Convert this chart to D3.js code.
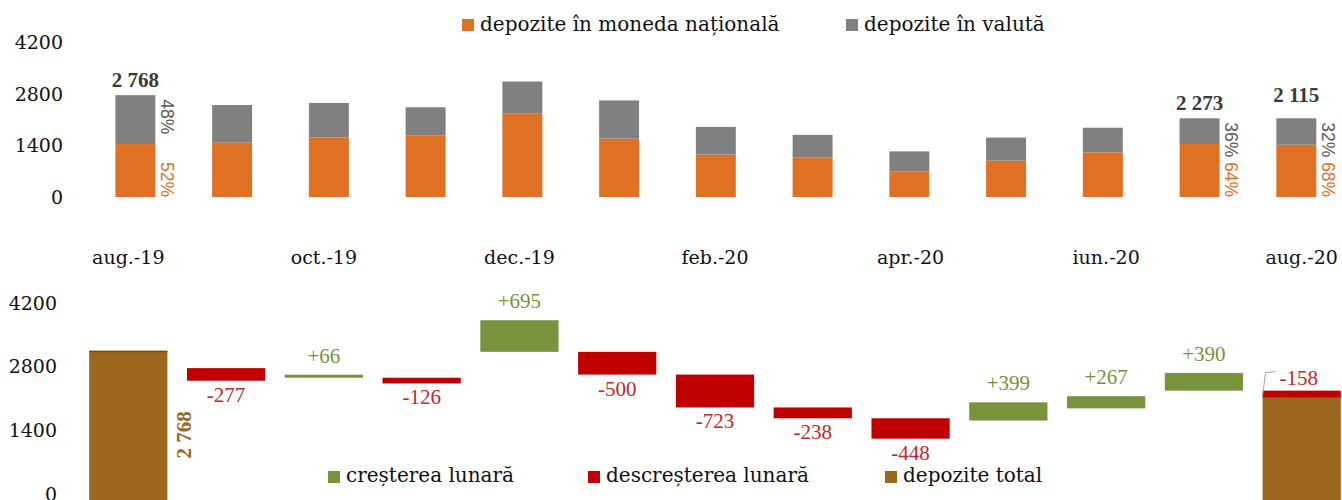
<!DOCTYPE html>
<html>
<head>
<meta charset="utf-8">
<script src="https://cdn.jsdelivr.net/npm/d3@7"></script>
<style>
    body { margin: 0; background: #ffffff; }
    svg { display: block; }
    .axis text { font-family: "DejaVu Serif", serif; font-size: 19px; fill: #111111; }
    .legend text { font-family: "DejaVu Serif", serif; font-size: 20px; fill: #111111; }
</style>
</head>
<body>
<div id="chart"></div>
<script>
// months shown in both panels
const months = ['aug.-19', 'sep.-19', 'oct.-19', 'nov.-19', 'dec.-19', 'ian.-20', 'feb.-20',
    'mar.-20', 'apr.-20', 'mai.-20', 'iun.-20', 'iul.-20', 'aug.-20'];
const monthTicks = ['aug.-19', 'oct.-19', 'dec.-19', 'feb.-20', 'apr.-20', 'iun.-20', 'aug.-20'];
const yTicks = [0, 1400, 2800, 4200];

// top panel: stacked deposits
const nationalDeposits = [1439, 1476, 1622, 1667, 2265, 1586, 1151, 1069, 689, 988, 1214, 1441, 1420];
const foreignDeposits = [1329, 1024, 935, 773, 875, 1040, 754, 621, 551, 628, 669, 699, 720];
const labeledMonths = ['aug.-19', 'iul.-20', 'aug.-20'];
const labeledTotals = ['2 768', '2 273', '2 115'];
const foreignShare = ['48%', '36%', '32%'];
const nationalShare = ['52%', '64%', '68%'];

// bottom panel: waterfall
const startTotal = 2768;
const startBarDrawn = 3150;          // the first column is drawn taller than its label
const monthlyChange = [-277, 66, -126, 695, -500, -723, -238, -448, 399, 267, 390, -158];
const endTotal = 2115;

const colors = {
    national: '#e07024',
    foreign: '#808080',
    up: '#77933c',
    down: '#c00000',
    total: '#9c661f',
    downText: '#c0282d'
};

const width = 1342, height = 500;

const svg = d3.select('#chart').append('svg')
    .attr('width', width)
    .attr('height', height);

// ---------- scales ----------
const xTop = d3.scaleBand().domain(months).range([87, 1344.7]).paddingInner(0.587).paddingOuter(0.2935);
const yTop = d3.scaleLinear().domain([0, 4200]).range([197, 42.5]);

const xBot = d3.scaleBand().domain(months).range([79.4, 1350.6]).paddingInner(0.2).paddingOuter(0.1);
const yBot = d3.scaleLinear().domain([0, 4200]).range([494, 303]);

// ---------- top panel ----------
const stacked = months.map((m, i) => ({ month: m, national: nationalDeposits[i], foreign: foreignDeposits[i] }));
const series = d3.stack().keys(['national', 'foreign'])(stacked);

svg.append('g').selectAll('g')
    .data(series)
    .join('g')
    .attr('fill', d => colors[d.key])
    .selectAll('rect')
    .data(d => d)
    .join('rect')
    .attr('x', d => xTop(d.data.month))
    .attr('width', xTop.bandwidth())
    .attr('y', d => yTop(d[1]))
    .attr('height', d => yTop(d[0]) - yTop(d[1]));

const yAxisTop = svg.append('g')
    .attr('class', 'axis')
    .attr('transform', 'translate(68,0)')
    .call(d3.axisLeft(yTop).tickValues(yTicks).tickSize(0).tickPadding(5).tickFormat(d3.format('d')));
yAxisTop.select('.domain').remove();

// totals + shares
labeledMonths.forEach((m, i) => {
    const idx = months.indexOf(m);
    const top = yTop(nationalDeposits[idx] + foreignDeposits[idx]);
    const cx = xTop(m) + xTop.bandwidth() / 2;
    const right = xTop(m) + xTop.bandwidth() + 11.5;

    svg.append('text')
        .attr('x', cx)
        .attr('y', i === 2 ? top - 16 : top - 8)
        .attr('text-anchor', 'middle')
        .attr('font-family', 'Liberation Serif, serif')
        .attr('font-weight', 'bold')
        .attr('font-size', 21)
        .attr('fill', '#3a3a3a')
        .text(labeledTotals[i]);

    svg.append('text')
        .attr('transform', `translate(${right},${top + 4}) rotate(90)`)
        .attr('dominant-baseline', 'central')
        .attr('font-family', 'Liberation Sans, sans-serif')
        .attr('font-size', 17.5)
        .attr('fill', '#595959')
        .text(foreignShare[i]);

    svg.append('text')
        .attr('transform', `translate(${right},${yTop(0)}) rotate(90)`)
        .attr('text-anchor', 'end')
        .attr('dominant-baseline', 'central')
        .attr('font-family', 'Liberation Sans, sans-serif')
        .attr('font-size', 17.5)
        .attr('fill', colors.national)
        .text(nationalShare[i]);
});

// top legend
const legendTop = svg.append('g').attr('class', 'legend');
[
    { x: 462, color: colors.national, label: 'depozite în moneda națională' },
    { x: 846, color: colors.foreign, label: 'depozite în valută' }
].forEach(d => {
    legendTop.append('rect').attr('x', d.x).attr('y', 19).attr('width', 12).attr('height', 12).attr('fill', d.color);
    legendTop.append('text').attr('x', d.x + 18).attr('y', 31).text(d.label);
});

// month labels between panels
const xAxis = svg.append('g')
    .attr('class', 'axis')
    .attr('transform', 'translate(0,250)')
    .call(d3.axisBottom(xBot).tickValues(monthTicks).tickSize(0).tickPadding(0));
xAxis.select('.domain').remove();
xAxis.selectAll('text').attr('font-size', 18.5).attr('dy', '0.71em');

// ---------- bottom panel ----------
const steps = [];
let running = startTotal;
monthlyChange.forEach((c, i) => {
    const end = running + c;
    // decreases hang from the previous level; increases sit on the new level (as drawn)
    const lo = end;
    const hi = c < 0 ? running : end + c;
    steps.push({ month: months[i + 1], change: c, lo, hi });
    running = end;
});

const bottom = svg.append('g');

bottom.append('rect')
    .attr('x', xBot(months[0]))
    .attr('width', xBot.bandwidth())
    .attr('y', yBot(startBarDrawn))
    .attr('height', yBot(0) - yBot(startBarDrawn) + 6)
    .attr('fill', colors.total);
bottom.append('rect')
    .attr('x', xBot(months[0]))
    .attr('width', xBot.bandwidth())
    .attr('y', yBot(startBarDrawn))
    .attr('height', 1.5)
    .attr('fill', '#7a4e14');

bottom.append('rect')
    .attr('x', xBot(months[12]))
    .attr('width', xBot.bandwidth())
    .attr('y', yBot(endTotal))
    .attr('height', yBot(0) - yBot(endTotal) + 6)
    .attr('fill', colors.total);

bottom.selectAll('rect.step')
    .data(steps)
    .join('rect')
    .attr('class', 'step')
    .attr('x', d => xBot(d.month))
    .attr('width', xBot.bandwidth())
    .attr('y', d => yBot(d.hi))
    .attr('height', d => yBot(d.lo) - yBot(d.hi))
    .attr('fill', d => d.change < 0 ? colors.down : colors.up);

const fmtChange = d => (d > 0 ? '+' : '-') + Math.abs(d);

bottom.selectAll('text.step')
    .data(steps.filter(d => d.month !== months[12]))
    .join('text')
    .attr('class', 'step')
    .attr('x', d => xBot(d.month) + xBot.bandwidth() / 2)
    .attr('y', d => d.change < 0 ? yBot(d.lo) + 21 : yBot(d.hi) - 12)
    .attr('text-anchor', 'middle')
    .attr('font-family', 'Liberation Serif, serif')
    .attr('font-size', 21)
    .attr('fill', d => d.change < 0 ? colors.downText : colors.up)
    .text(d => fmtChange(d.change));

// last change gets a leader line
const last = steps[steps.length - 1];
const lx = xBot(last.month);
bottom.append('path')
    .attr('d', `M${lx},${yBot(last.hi) + 5} L${lx + 3},${yBot(last.hi) - 18} L${lx + 13},${yBot(last.hi) - 19}`)
    .attr('fill', 'none')
    .attr('stroke', '#a6a6a6')
    .attr('stroke-width', 1);
bottom.append('text')
    .attr('x', lx + 17)
    .attr('y', yBot(last.hi) - 6)
    .attr('font-family', 'Liberation Serif, serif')
    .attr('font-size', 21)
    .attr('fill', colors.downText)
    .text(fmtChange(last.change));

// start total label, rotated
bottom.append('text')
    .attr('transform', `translate(${xBot(months[0]) + xBot.bandwidth() + 17},${yBot(1300)}) rotate(-90)`)
    .attr('text-anchor', 'middle')
    .attr('dominant-baseline', 'central')
    .attr('font-family', 'Liberation Serif, serif')
    .attr('font-weight', 'bold')
    .attr('font-size', 21)
    .attr('fill', colors.total)
    .text(d3.format(',')(startTotal).replace(',', ' '));

const yAxisBot = svg.append('g')
    .attr('class', 'axis')
    .attr('transform', 'translate(62,0)')
    .call(d3.axisLeft(yBot).tickValues(yTicks).tickSize(0).tickPadding(5).tickFormat(d3.format('d')));
yAxisBot.select('.domain').remove();

// bottom legend
const legendBot = svg.append('g').attr('class', 'legend');
[
    { x: 328, color: colors.up, label: 'creșterea lunară' },
    { x: 588, color: colors.down, label: 'descreșterea lunară' },
    { x: 885, color: colors.total, label: 'depozite total' }
].forEach(d => {
    legendBot.append('rect').attr('x', d.x).attr('y', 471).attr('width', 12).attr('height', 12).attr('fill', d.color);
    legendBot.append('text').attr('x', d.x + 18).attr('y', 482).text(d.label);
});
</script>
</body>
</html>
